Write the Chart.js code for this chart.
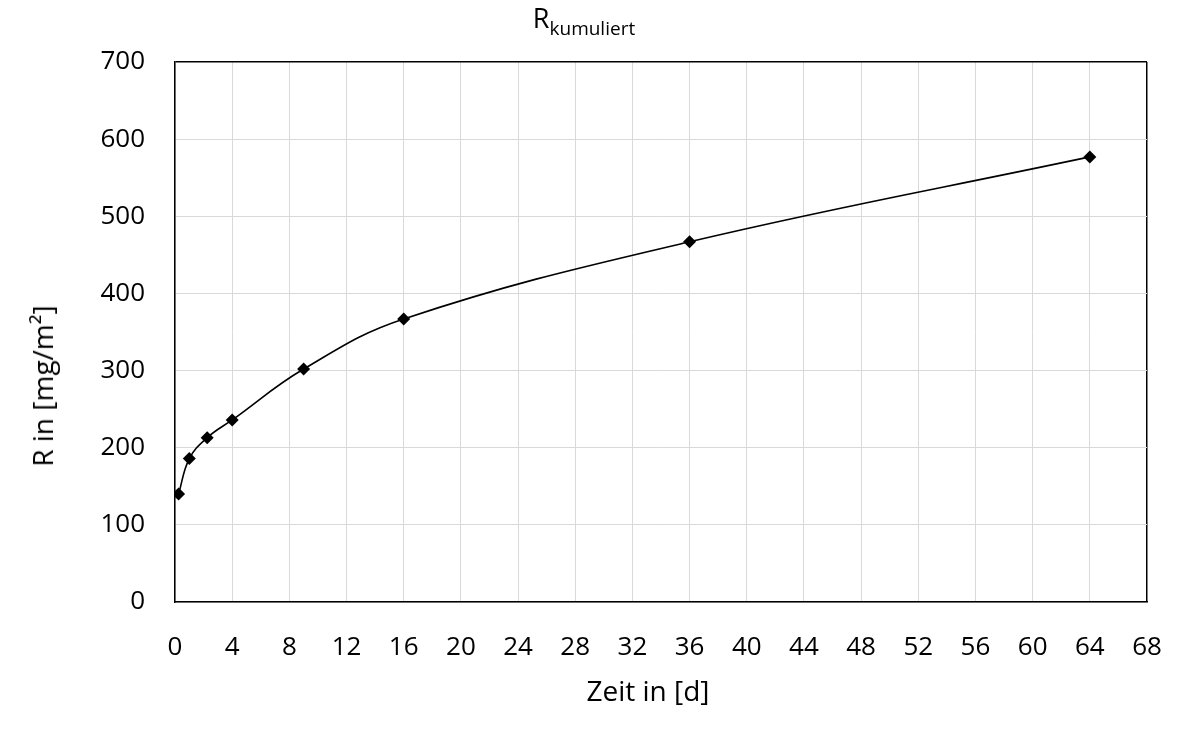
<!DOCTYPE html>
<html>
<head>
<meta charset="utf-8">
<script src="https://cdn.jsdelivr.net/npm/chart.js@4/dist/chart.umd.min.js"></script>
<style>
  html, body { margin:0; padding:0; background:#fff; }
  #wrap { position:relative; width:1181px; height:738px; font-family:"Open Sans", sans-serif; color:#000; }
  #c { position:absolute; left:0; top:0; }
  .lbl { position:absolute; white-space:nowrap; }
  #title { left:584px; top:1px; transform:translateX(-50%); font-size:27px; line-height:34px; }
  #title sub { font-size:19px; vertical-align:-7px; line-height:0; }
  #xt { left:648px; top:690px; transform:translate(-50%,-50%); font-size:28px; }
  #yt { left:42px; top:386px; transform:translate(-50%,-50%) rotate(-90deg); font-size:28px; }
</style>
</head>
<body>
<div id="wrap">
  <canvas id="c" width="1181" height="738"></canvas>
  <div class="lbl" id="title">R<sub>kumuliert</sub></div>
  <div class="lbl" id="xt">Zeit in [d]</div>
  <div class="lbl" id="yt">R in [mg/m²]</div>
</div>
<script>
const days = [0.25, 1, 2.25, 4, 9, 16, 36, 64];
const values = [140, 186, 213, 236, 302, 367, 467, 577];
const xMin = 0, xMax = 68, xStep = 4;
const yMin = 0, yMax = 700, yStep = 100;

const pts = days.map((d, i) => ({ x: d, y: values[i] }));

new Chart(document.getElementById('c'), {
  type: 'line',
  data: {
    datasets: [{
      data: pts,
      borderColor: '#000',
      borderWidth: 1.6,
      backgroundColor: '#000',
      pointStyle: 'rectRot',
      pointRadius: 6.5,
      pointBackgroundColor: '#000',
      pointBorderColor: '#000',
      pointBorderWidth: 0,
      tension: 0.4,
      fill: false
    }]
  },
  options: {
    responsive: false,
    animation: false,
    devicePixelRatio: 1,
    layout: { padding: { top: 62, right: 34, left: 0, bottom: 0 } },
    plugins: { legend: { display: false }, title: { display: false }, tooltip: { enabled: false } },
    scales: {
      x: {
        type: 'linear',
        min: xMin, max: xMax,
        afterFit: s => { s.height = 136; s.paddingLeft = 0; s.paddingRight = 0; },
        ticks: { stepSize: xStep, padding: 30, color: '#000', font: { family: 'Open Sans', size: 26 } },
        grid: {
          drawTicks: false,
          color: c => (c.tick && c.tick.value === xMax) ? '#000' : '#d9d9d9',
          lineWidth: c => (c.tick && c.tick.value === xMax) ? 1.5 : 1
        },
        border: { color: '#000', width: 1.5 }
      },
      y: {
        min: yMin, max: yMax,
        afterFit: s => { s.width = 175; s.paddingTop = 0; s.paddingBottom = 0; },
        ticks: { stepSize: yStep, padding: 30, color: '#000', font: { family: 'Open Sans', size: 26 } },
        grid: {
          drawTicks: false,
          color: c => (c.tick && c.tick.value === yMax) ? '#000' : '#d9d9d9',
          lineWidth: c => (c.tick && c.tick.value === yMax) ? 1.5 : 1
        },
        border: { color: '#000', width: 1.5 }
      }
    }
  }
});
</script>
</body>
</html>
